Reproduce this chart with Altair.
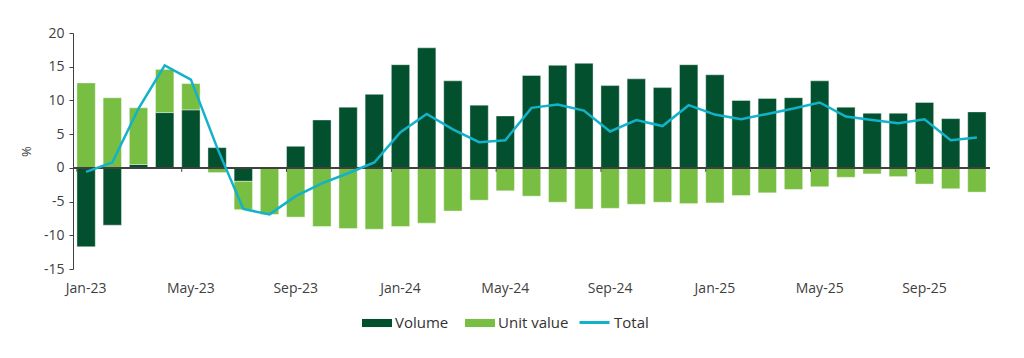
import altair as alt
import pandas as pd

months = ["Jan-23", "Feb-23", "Mar-23", "Apr-23", "May-23", "Jun-23", "Jul-23", "Aug-23", "Sep-23", "Oct-23", "Nov-23", "Dec-23",
          "Jan-24", "Feb-24", "Mar-24", "Apr-24", "May-24", "Jun-24", "Jul-24", "Aug-24", "Sep-24", "Oct-24", "Nov-24", "Dec-24",
          "Jan-25", "Feb-25", "Mar-25", "Apr-25", "May-25", "Jun-25", "Jul-25", "Aug-25", "Sep-25", "Oct-25", "Nov-25"]
volume = [-11.7, -8.5, 0.5, 8.2, 8.6, 3.0, -2.0, -0.1, 3.2, 7.1, 9.0, 10.9,
          15.3, 17.8, 12.9, 9.3, 7.7, 13.7, 15.2, 15.5, 12.2, 13.2, 11.9, 15.3,
          13.8, 10.0, 10.3, 10.4, 12.9, 9.0, 8.1, 8.1, 9.7, 7.3, 8.3]
unit_value = [12.6, 10.4, 8.4, 6.4, 3.9, -0.7, -4.2, -6.8, -7.3, -8.7, -9.0, -9.1,
              -8.7, -8.2, -6.4, -4.8, -3.4, -4.2, -5.1, -6.1, -6.0, -5.4, -5.1, -5.3,
              -5.2, -4.1, -3.7, -3.2, -2.8, -1.4, -0.9, -1.3, -2.4, -3.1, -3.6]
total = [-0.6, 0.8, 8.8, 15.2, 13.1, 3.0, -6.1, -6.9, -4.2, -2.3, -0.8, 0.8,
         5.3, 8.0, 5.7, 3.8, 4.1, 8.9, 9.4, 8.5, 5.4, 7.1, 6.2, 9.3,
         7.9, 7.2, 8.0, 8.8, 9.7, 7.6, 7.1, 6.6, 7.2, 4.1, 4.5]
label_months = months[::4]
y_ticks = [-15, -10, -5, 0, 5, 10, 15, 20]

FONT = "Open Sans"
DARK = "#03502F"
LIGHT = "#78BE43"
CYAN = "#12B2CB"

bars_df = pd.DataFrame({
    "month": months * 2,
    "series": ["Volume"] * len(months) + ["Unit value"] * len(months),
    "order": [0] * len(months) + [1] * len(months),
    "value": volume + unit_value,
})
line_df = pd.DataFrame({"month": months, "value": total, "series": ["Total"] * len(months)})
tick_df = pd.DataFrame({"month": label_months})

x_scale = alt.Scale(domain=months, paddingInner=0.3, paddingOuter=0.15)
y_scale = alt.Scale(domain=[-15, 20], nice=False)

x_axis = alt.Axis(title=None, values=label_months, labelAngle=0, ticks=False, domain=False,
                  labelPadding=12, labelFont=FONT, labelFontSize=14, labelColor="#404040")
y_axis = alt.Axis(title="%", values=y_ticks, grid=False, tickSize=4, labelOverlap=False,
                  labelExpr="'' + datum.value",
                  tickColor="#404040", domainColor="#404040", labelPadding=5,
                  labelFont=FONT, labelFontSize=14, labelColor="#404040",
                  titleFont=FONT, titleFontSize=13, titleFontWeight="normal",
                  titleColor="#404040", titlePadding=10)

bars = alt.Chart(bars_df).mark_bar(stroke="white", strokeWidth=0.4).encode(
    x=alt.X("month:N", scale=x_scale, sort=months, axis=x_axis),
    y=alt.Y("value:Q", scale=y_scale, stack="zero", axis=y_axis),
    color=alt.Color("series:N", scale=alt.Scale(domain=["Volume", "Unit value"], range=[DARK, LIGHT]),
                    legend=alt.Legend(title=None, orient="none", direction="horizontal",
                                      legendX=289, legendY=275,
                                      symbolType="M-1,-0.27H1V0.27H-1Z", symbolSize=900,
                                      symbolStrokeWidth=0, symbolOpacity=1,
                                      labelFont=FONT, labelFontSize=15, labelColor="#333333",
                                      labelOffset=3, columnPadding=16)),
    order=alt.Order("order:Q"),
)

zero = alt.Chart(line_df).mark_rule(color="#404040", strokeWidth=1).encode(
    y=alt.YDatum(datum=0, axis=y_axis))

ticks = alt.Chart(tick_df).mark_rule(color="#404040", strokeWidth=1, y2Offset=4).encode(
    x=alt.X("month:N", bandPosition=0, axis=x_axis),
    y=alt.YDatum(datum=0, axis=y_axis),
    y2=alt.datum(0),
)

line = alt.Chart(line_df).mark_line(strokeWidth=2.5).encode(
    x=alt.X("month:N", sort=months, axis=x_axis),
    y=alt.Y("value:Q", axis=y_axis),
    stroke=alt.Stroke("series:N", scale=alt.Scale(domain=["Total"], range=[CYAN]),
                      legend=alt.Legend(title=None, orient="none", direction="horizontal",
                                        legendX=505, legendY=273,
                                        symbolType="stroke", symbolSize=900, symbolStrokeWidth=3,
                                        labelFont=FONT, labelFontSize=15, labelColor="#333333",
                                        labelOffset=3)),
)

chart = alt.layer(bars, zero, ticks, line).properties(
    width=917, height=236,
    autosize=alt.AutoSizeParams(type="none"),
    padding={"left": 65, "top": 25, "right": 26, "bottom": 81},
    background="white",
).configure_view(stroke=None).configure_axisY(labelOverlap=False)

chart.save("out.html", embed_options={"renderer": "svg", "actions": False})
